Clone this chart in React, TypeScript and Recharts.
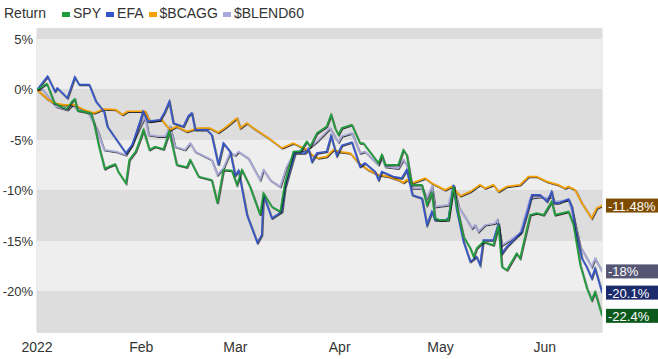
import React from 'react';
import { LineChart, Line, XAxis, YAxis, CartesianGrid, ReferenceArea, ReferenceDot } from 'recharts';

// [day of 2022 (Jan 1 = 0), return %]
const SPY: [number, number][] = [[0,0],[2.9,0.6],[5.1,-1.29],[7,-1.66],[8.9,-1.88],[10.4,-1.16],[11.2,-0.92],[12,-2.05],[16,-2.31],[16.9,-3.27],[18.4,-5.62],[20.1,-7.84],[21.4,-7.61],[23.2,-7.37],[24.1,-8.1],[26.4,-9.26],[27.4,-6.94],[29.3,-6.12],[30.6,-4.96],[31.6,-3.97],[33.4,-5.95],[35.1,-5.63],[37.6,-5.88],[39.3,-4.14],[41.5,-7.44],[44.5,-7.67],[45.5,-6.94],[48,-8.6],[51.9,-8.93],[53.6,-11.24],[55.4,-7.94],[57.9,-8],[59.4,-9.42],[60.9,-7.94],[63.3,-9.59],[66.3,-12.4],[67.3,-10.25],[69.8,-11.58],[72.3,-12.07],[73.7,-9.26],[76.2,-6.12],[78.2,-6.12],[80.2,-5.13],[81.2,-5.63],[83.2,-4.3],[86.1,-3.64],[87.4,-2.48],[88.6,-3.8],[89.6,-4.46],[90.6,-3.8],[93.6,-3.47],[96,-5.29],[97,-5.29],[101.5,-7.27],[102.5,-6.45],[103.5,-7.44],[107.4,-7.44],[108.9,-5.95],[109.9,-6.45],[111.4,-9.42],[114.4,-9.42],[115.9,-11.41],[117.4,-10.25],[118.3,-12.73],[119.8,-12.9],[122.3,-12.9],[123.8,-9.59],[124.8,-11.58],[126.8,-14.55],[128.8,-15.7],[129.8,-16.54],[130.7,-15.7],[132.7,-15.05],[135.7,-15.38],[137.2,-13.39],[138.2,-17.53],[139.7,-17.86],[142.6,-16.2],[143.6,-16.7],[146.6,-12.4],[148.6,-12.23],[150.6,-12.4],[153,-11.08],[154,-12.4],[158,-12.07],[159.5,-13.39],[161.5,-17.36],[163.5,-19.67],[164.9,-20.83],[165.9,-20.01],[168,-22.4]];

const EFA: [number, number][] = [[0,0],[3.1,1.32],[5.3,-0.17],[6,0.17],[9,-0.82],[11.2,1.26],[12.5,0.5],[15.5,0.5],[17.5,-1.16],[19.9,-2.15],[20.9,-3.64],[26.4,-6.28],[28.3,-5.46],[30.6,-3.14],[31.5,-2.15],[33,-3.14],[36.6,-2.98],[37.8,-2.31],[39.3,-1.16],[40.5,-3.3],[43.5,-3.64],[45,-2.58],[46,-2.31],[47,-3.97],[50.5,-3.97],[51.9,-4.46],[53.9,-7.44],[55.4,-5.29],[57.4,-6.12],[58.9,-8.5],[59.9,-8],[62.4,-12.4],[65.5,-15.15],[66.8,-14.38],[67.3,-10.42],[69.8,-12.73],[72.8,-12.07],[73.7,-9.75],[76.7,-6.28],[79.7,-6.28],[80.7,-5.88],[81.7,-7.11],[83.2,-6.28],[86.1,-6.12],[87.4,-4.56],[89.1,-6.55],[90.6,-5.51],[93.6,-5.2],[96,-7.61],[97.5,-7.27],[100.5,-8.1],[101.5,-8.93],[102.5,-8.1],[105.9,-8.6],[108.4,-8.76],[109.9,-7.94],[111.6,-10.42],[114.4,-10.74],[115.9,-13.39],[117.4,-12.07],[118.3,-12.9],[121.3,-12.9],[122.3,-12.73],[123.8,-9.42],[124.8,-11.9],[126.8,-15.05],[128.8,-17.03],[130.7,-16.54],[131.7,-17.36],[132.7,-14.88],[135.7,-14.88],[137.2,-13.22],[138.2,-16.2],[139.7,-15.54],[142.6,-14.55],[144.1,-14.06],[146.1,-11.74],[147.1,-10.42],[149.6,-10.42],[151.6,-11.08],[153,-10.09],[153.7,-11.24],[155,-11.24],[158,-10.84],[159,-11.58],[160,-13.72],[162,-16.7],[163.4,-17.53],[164.9,-18.68],[165.9,-17.69],[168,-20.1]];

const BCAGG: [number, number][] = [[0,0],[3.1,-0.92],[5.1,-1.32],[8,-1.49],[11,-1.49],[14,-1.98],[16.9,-2.31],[19.9,-1.91],[23.4,-1.98],[25.4,-2.48],[26.9,-2.15],[30.6,-2.15],[32.1,-2.15],[33.6,-3.14],[37.1,-2.98],[39.5,-3.97],[41.5,-3.64],[44.5,-4.14],[48,-3.8],[51.4,-3.8],[53.9,-4.23],[56.4,-3.64],[59.4,-2.81],[60.4,-3.8],[62.4,-3.3],[64.3,-3.8],[68.8,-4.79],[72.8,-5.78],[76.2,-5.29],[80.2,-5.95],[81.7,-6.45],[83.6,-6.78],[86.1,-6.62],[88.1,-5.95],[89.6,-6.12],[93.1,-6.28],[95.5,-7.21],[98.5,-7.94],[101.5,-8.43],[104.5,-8.6],[107.4,-8.93],[108.9,-9.2],[109.9,-8.93],[111.4,-9.26],[115.4,-8.76],[117.4,-9.26],[121.3,-9.92],[123.3,-9.59],[125.8,-10.52],[128.8,-10.09],[131.7,-9.42],[133.2,-9.75],[135.7,-9.42],[137.2,-10.09],[139.7,-9.59],[143.6,-9.42],[146.1,-8.6],[148.6,-8.6],[151.6,-9.1],[155,-9.42],[157,-9.75],[158,-9.59],[160,-9.92],[162,-11.24],[164.9,-12.73],[166.4,-11.74],[168,-11.48]];

const BLEND60: [number, number][] = [[0,0],[1.5,0.1],[5.6,-1.66],[9,-1.98],[10.5,-1.49],[12,-1.91],[15,-2.15],[17.9,-3.97],[19.9,-5.95],[23.4,-6.12],[26.4,-6.45],[27.9,-5.63],[30.6,-3.64],[32.1,-2.65],[33.1,-4.46],[36.1,-4.63],[38.1,-4.63],[39.5,-3.64],[41,-5.63],[44,-5.95],[45.5,-5.29],[47,-6.12],[51.9,-6.94],[53.6,-8.43],[55.4,-7.77],[57.4,-6.2],[58.9,-6.5],[59.9,-6.12],[62.8,-6.78],[66.3,-8.93],[67.3,-7.94],[69.3,-8.93],[72.3,-9.59],[74.2,-7.61],[76.7,-6.12],[79.7,-5.95],[81.2,-5.68],[83.2,-5.13],[87.1,-3.8],[88.6,-4.7],[89.6,-5.2],[90.6,-4.6],[93.6,-4.3],[96,-6.28],[97.5,-6.12],[101.5,-7.44],[102.5,-6.62],[103.5,-7.61],[107.4,-7.77],[108.9,-6.94],[109.9,-7.44],[111.6,-9.75],[114.4,-9.75],[115.9,-10.74],[117.4,-9.59],[118.3,-11.58],[122.3,-11.41],[123.8,-9.42],[125.3,-11.58],[127.8,-12.9],[129.3,-13.72],[130.2,-13.39],[131.2,-14.06],[133.2,-13.39],[136.2,-13.22],[136.8,-12.9],[138.2,-15.38],[140.7,-14.88],[143.6,-14.22],[146.6,-10.74],[149.6,-10.59],[151.6,-10.74],[153,-10.59],[154,-11.08],[158,-10.91],[159.5,-12.57],[161.5,-15.54],[163.5,-16.7],[164.9,-17.53],[165.9,-16.7],[168,-18]];

const xTicks = [0, 31, 59, 90, 120, 151];
const xTickLabels = ['2022', 'Feb', 'Mar', 'Apr', 'May', 'Jun'];
const yTicks = [5, 0, -5, -10, -15, -20];
const bandEdges = [6, 5, 0, -5, -10, -15, -20, -24];

const series = [
  { name: 'BLEND60', label: '$BLEND60', pts: BLEND60, color: '#a9a9dc', tag: '#555574', end: '-18%' },
  { name: 'BCAGG', label: '$BCAGG', pts: BCAGG, color: '#f5a000', tag: '#7d4c00', end: '-11.48%' },
  { name: 'EFA', label: 'EFA', pts: EFA, color: '#3556c9', tag: '#1b2b6c', end: '-20.1%' },
  { name: 'SPY', label: 'SPY', pts: SPY, color: '#1f9e3c', tag: '#0b5a1c', end: '-22.4%' },
];
const legendOrder = ['SPY', 'EFA', 'BCAGG', 'BLEND60'];

const toRows = (pts: [number, number][]) => pts.map(([d, v]) => ({ d, v }));

const FONT = 'Arial, "Liberation Sans", sans-serif';

export default function App() {
  return (
    <div style={{ position: 'absolute', left: 0, top: 0, width: 658, height: 359, background: '#fff', fontFamily: FONT }}>
      <svg width={0} height={0} style={{ position: 'absolute' }}>
        <defs>
          <filter id="sh" x="-2%" y="-2%" width="104%" height="104%">
            <feDropShadow dx="0.7" dy="0.9" stdDeviation="0.3" floodColor="#000" floodOpacity="0.85" />
          </filter>
        </defs>
      </svg>
      <div style={{ position: 'absolute', left: 4, top: 4, fontSize: 14, color: '#333', whiteSpace: 'nowrap', lineHeight: '18px' }}>
        <span>Return</span>
        {legendOrder.map((n, i) => {
          const s = series.find((x) => x.name === n)!;
          return (
            <span key={n} style={{ marginLeft: i === 0 ? 16 : 5 }}>
              <span style={{ display: 'inline-block', width: 8, height: 5, background: s.color, marginRight: 3, verticalAlign: 'middle' }} />
              {s.label}
            </span>
          );
        })}
      </div>
      <LineChart width={658} height={359} margin={{ top: 29, right: 56, bottom: 0, left: 0 }} style={{ position: 'absolute', left: 0, top: 0 }}>
        {bandEdges.slice(0, -1).map((top, i) => (
          <ReferenceArea key={i} y1={bandEdges[i + 1]} y2={top} fill={i % 2 === 0 ? '#dddddd' : '#eeeeee'} fillOpacity={1} stroke="none" ifOverflow="hidden" />
        ))}
        <CartesianGrid horizontal={false} vertical stroke="#d6d6d6" strokeWidth={1} />
        <CartesianGrid horizontal vertical={false} stroke="#bdbdbd" strokeWidth={1} />
        <XAxis
          type="number"
          dataKey="d"
          domain={[0, 168]}
          ticks={xTicks}
          tickFormatter={(v: number) => xTickLabels[xTicks.indexOf(v)]}
          axisLine={false}
          tickLine={false}
          height={27}
          tickMargin={4}
          tick={{ fontSize: 14, fill: '#333', fontFamily: FONT }}
          allowDataOverflow
        />
        <YAxis
          type="number"
          domain={[-24, 6]}
          ticks={yTicks}
          tickFormatter={(v: number) => `${v}%`}
          axisLine={false}
          tickLine={false}
          width={37}
          tickSize={0}
          tickMargin={4}
          tick={{ fontSize: 13, fill: '#333', fontFamily: FONT }}
          allowDataOverflow
        />
        {series.map((s) => (
          <Line
            key={s.name}
            data={toRows(s.pts)}
            dataKey="v"
            type="linear"
            stroke={s.color}
            strokeWidth={1.5}
            dot={false}
            activeDot={false}
            isAnimationActive={false}
            filter="url(#sh)"
          />
        ))}
        {series.map((s) => {
          const last = s.pts[s.pts.length - 1];
          return (
            <ReferenceDot
              key={'t' + s.name}
              x={last[0]}
              y={last[1]}
              ifOverflow="visible"
              shape={(p: any) => (
                <g>
                  <rect x={p.cx + 4} y={p.cy - 7} width={60} height={14} fill={s.tag} />
                  <text x={p.cx + 6} y={p.cy + 5} fill="#fff" fontSize={13} fontFamily={FONT}>{s.end}</text>
                </g>
              )}
            />
          );
        })}
      </LineChart>
    </div>
  );
}
